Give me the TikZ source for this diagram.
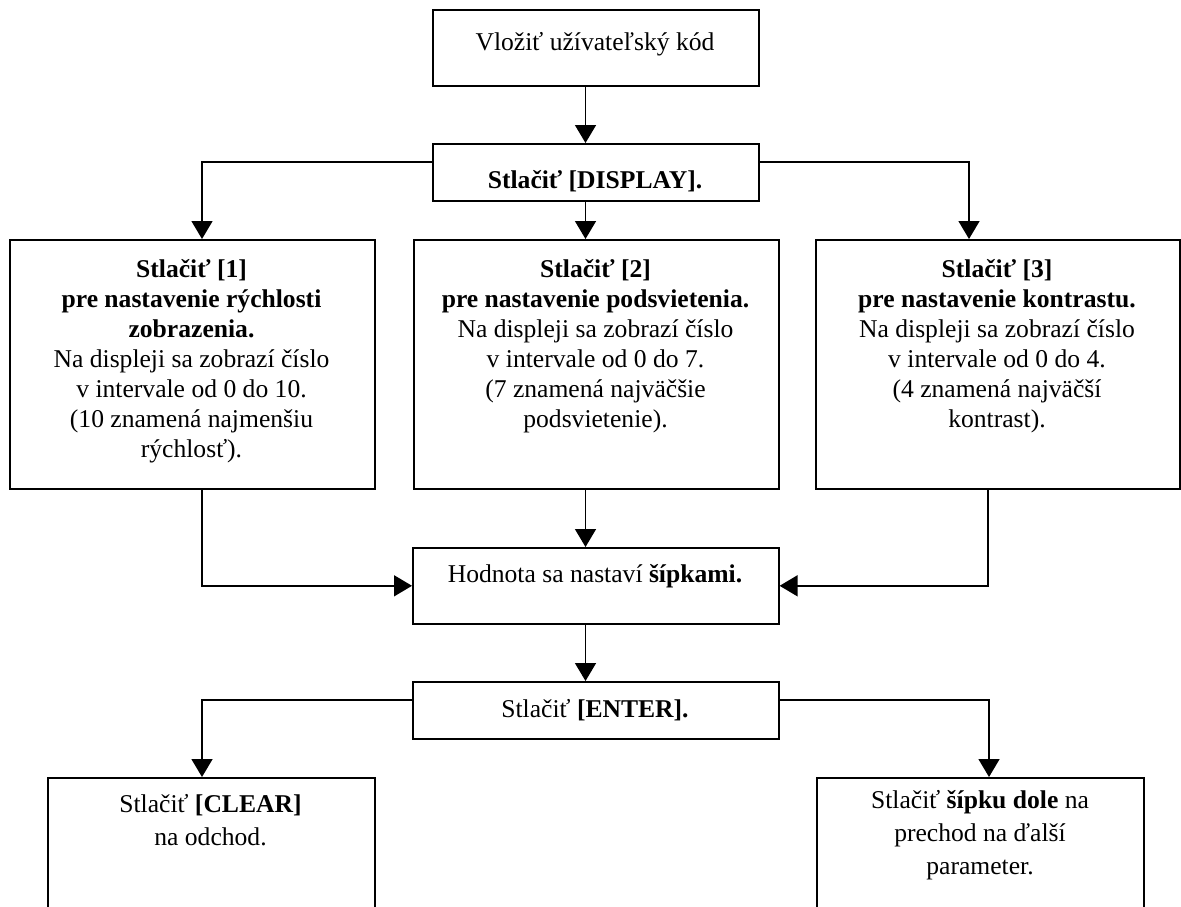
\documentclass[tikz,border=0pt]{standalone}
\usepackage{fontspec}
\setmainfont{Liberation Serif}
\usetikzlibrary{arrows.meta}
\tikzset{
  box/.style={draw, line width=0.8pt, rectangle, inner sep=0pt, anchor=north west},
  txt/.style={align=center, inner sep=0pt, font=\fontsize{12.8}{15}\selectfont},
  txtb/.style={align=center, inner sep=0pt, font=\fontsize{12.8}{16.5}\selectfont},
  arr/.style={-{Triangle[length=9pt,width=10.5pt]}, line width=0.75pt},
}
\begin{document}
\begin{tikzpicture}[x=0.5pt,y=-0.5pt]
\useasboundingbox (0,0) rectangle (1181,906);
\clip (0,0) rectangle (1181,906);
% boxes
\node[box, minimum width=163pt, minimum height=38pt] (top) at (432,9) {};
\node[box, minimum width=163pt, minimum height=28.5pt] (disp) at (432,143) {};
\node[box, minimum width=182.5pt, minimum height=124.5pt] (b1) at (9,239) {};
\node[box, minimum width=182.5pt, minimum height=124.5pt] (b2) at (413,239) {};
\node[box, minimum width=182pt, minimum height=124.5pt] (b3) at (815,239) {};
\node[box, minimum width=183pt, minimum height=38pt] (hod) at (412,547) {};
\node[box, minimum width=183pt, minimum height=28.5pt] (ent) at (412,681) {};
\node[box, minimum width=163.5pt, minimum height=80pt] (cl) at (47,777) {};
\node[box, minimum width=163.5pt, minimum height=80pt] (cr) at (816,777) {};
% texts
\node[txt] (ttop) at (595,44) {Vložiť užívateľský kód};
\node[txt] (tdisp) at (595,181) {\textbf{Stlačiť [DISPLAY].}};
\node[txt] (tb1) at (191.5,361) {\textbf{Stlačiť [1]}\\\textbf{pre nastavenie rýchlosti}\\\textbf{zobrazenia.}\\Na displeji sa zobrazí číslo\\v intervale od 0 do 10.\\(10 znamená najmenšiu\\rýchlosť).};
\node[txt] (tb2) at (595.5,346) {\textbf{Stlačiť [2]}\\\textbf{pre nastavenie podsvietenia.}\\Na displeji sa zobrazí číslo\\v intervale od 0 do 7.\\(7 znamená najväčšie\\podsvietenie).};
\node[txt] (tb3) at (997,346) {\textbf{Stlačiť [3]}\\\textbf{pre nastavenie kontrastu.}\\Na displeji sa zobrazí číslo\\v intervale od 0 do 4.\\(4 znamená najväčší\\kontrast).};
\node[txt] (thod) at (595,576) {Hodnota sa nastaví \textbf{šípkami.}};
\node[txt] (tent) at (595,710) {Stlačiť \textbf{[ENTER].}};
\node[txtb] (tcl) at (210.5,820) {Stlačiť \textbf{[CLEAR]}\\na odchod.};
\node[txtb] (tcr) at (980,835) {Stlačiť \textbf{šípku dole} na\\prechod na ďalší\\parameter.};
% junction coordinates
\coordinate (cx) at (585.5,0);
\coordinate (j1) at (202,162);
\coordinate (j2) at (969,162);
\coordinate (j3) at (202,585);
\coordinate (j4) at (988,585);
\coordinate (j6) at (202,700);
\coordinate (j7) at (989,700);
% connectors
\draw[arr] (cx |- top.south) -- (cx |- disp.north);
\draw[arr] (cx |- disp.south) -- (cx |- b2.north);
\draw[arr] (disp.west |- j1) -| (j1 |- b1.north);
\draw[arr] (disp.east |- j2) -| (j2 |- b3.north);
\draw[arr] (cx |- b2.south) -- (cx |- hod.north);
\draw[arr] (j3 |- b1.south) |- (hod.west);
\draw[arr] (j4 |- b3.south) |- (hod.east);
\draw[arr] (cx |- hod.south) -- (cx |- ent.north);
\draw[arr] (ent.west |- j6) -| (j6 |- cl.north);
\draw[arr] (ent.east |- j7) -| (j7 |- cr.north);
\end{tikzpicture}
\end{document}
